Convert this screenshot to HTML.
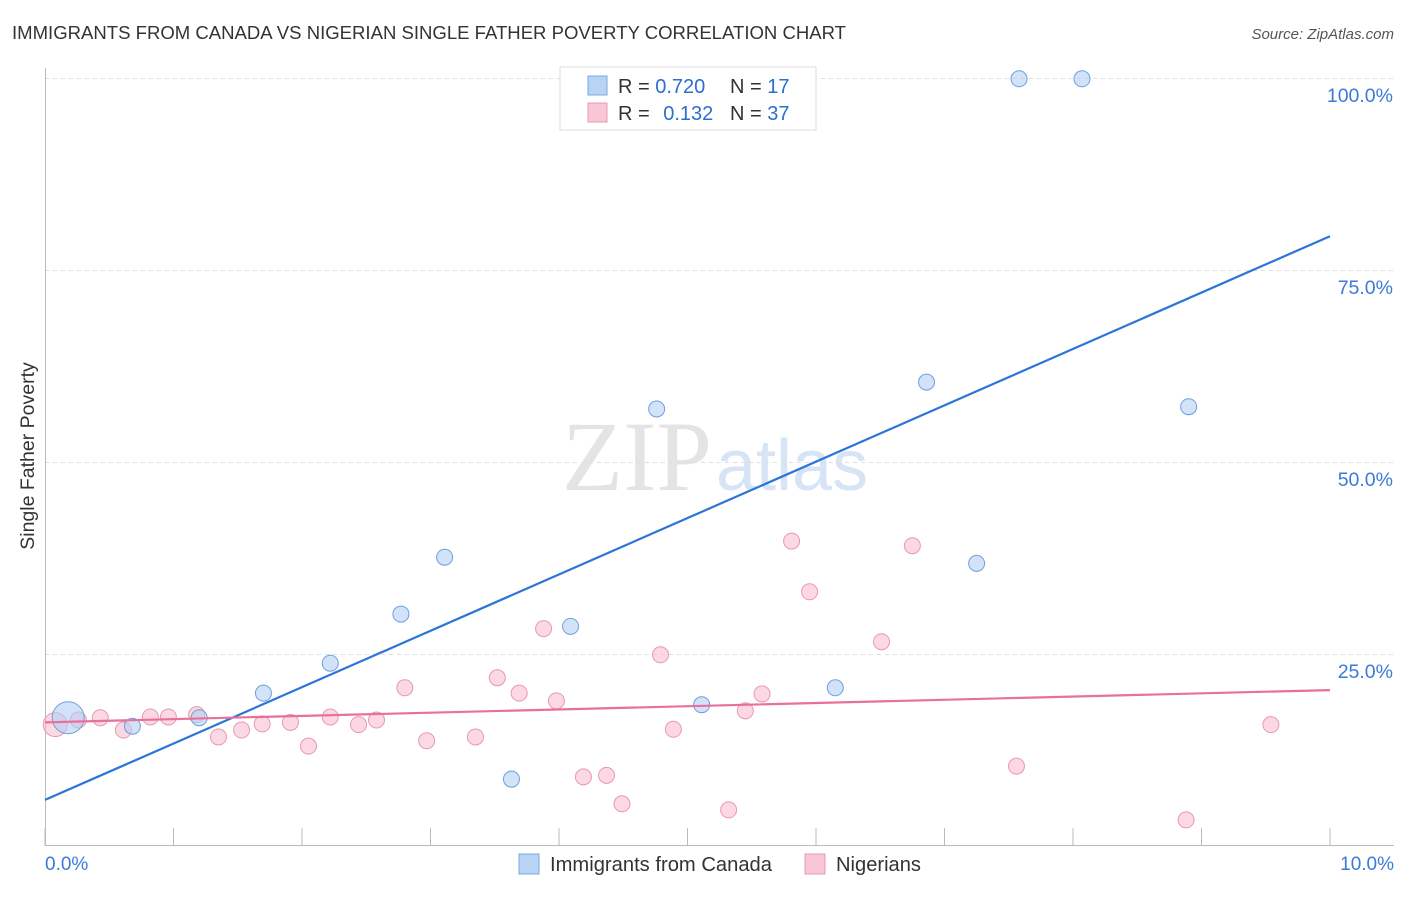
<!DOCTYPE html>
<html><head><meta charset="utf-8"><style>
body{margin:0;background:#fff;font-family:"Liberation Sans",sans-serif;}
svg text{font-family:"Liberation Sans",sans-serif;}
</style></head><body>
<svg id="c" width="1406" height="892">
<text x="12" y="39" font-size="18" fill="#333" textLength="834" lengthAdjust="spacingAndGlyphs">IMMIGRANTS FROM CANADA VS NIGERIAN SINGLE FATHER POVERTY CORRELATION CHART</text>
<text x="1394" y="39" font-size="15" fill="#555" font-style="italic" text-anchor="end">Source: ZipAtlas.com</text>
<text x="712" y="490" font-size="100" fill="#e4e4e4" text-anchor="end" style="font-family:'Liberation Serif',serif">ZIP</text>
<text x="716" y="490" font-size="72" fill="#d6e4f5">atlas</text>
<text x="34" y="456" font-size="19.5" fill="#333" transform="rotate(-90 34 456)" text-anchor="middle">Single Father Poverty</text>
<g id="grid"></g><g id="marks"></g>
<g>
<rect x="560" y="67" width="256" height="63" fill="#fff" stroke="#ddd"/>
<rect x="588" y="76" width="19" height="19" fill="#b8d4f5" stroke="#7aa8e0"/>
<rect x="588" y="103" width="19" height="19" fill="#f8c6d5" stroke="#e899b0"/>
<text x="618" y="93" font-size="20" fill="#333">R = <tspan fill="#2b6fd0">0.720</tspan></text>
<text x="730" y="93" font-size="20" fill="#333">N = <tspan fill="#2b6fd0">17</tspan></text>
<text x="618" y="120" font-size="20" fill="#333">R = <tspan fill="#2b6fd0" dx="8">0.132</tspan></text>
<text x="730" y="120" font-size="20" fill="#333">N = <tspan fill="#2b6fd0">37</tspan></text>
</g>
<g>
<rect x="519" y="854" width="20" height="20" fill="#b8d4f5" stroke="#7aa8e0"/>
<text x="550" y="871" font-size="20" fill="#333" textLength="222" lengthAdjust="spacingAndGlyphs">Immigrants from Canada</text>
<rect x="805" y="854" width="20" height="20" fill="#f8c6d5" stroke="#e899b0"/>
<text x="836" y="871" font-size="20" fill="#333" textLength="85" lengthAdjust="spacingAndGlyphs">Nigerians</text>
</g>
</svg>
<script>
const yTicks=[25,50,75,100];
const yTickLabels=["25.0%","50.0%","75.0%","100.0%"];
const xTickLabels=["0.0%","10.0%"];
const canadaX=[0.18,0.68,1.20,1.70,2.22,2.77,3.11,3.63,4.09,4.76,5.11,6.15,6.86,7.25,7.58,8.07,8.90];
const canadaY=[16.7,15.6,16.7,19.9,23.8,30.2,37.6,8.7,28.6,56.9,18.4,20.6,60.4,36.8,99.9,99.9,57.2];
const nigX=[0.08,0.26,0.43,0.61,0.82,0.96,1.18,1.35,1.53,1.69,1.91,2.05,2.22,2.44,2.58,2.80,2.97,3.35,3.52,3.69,3.88,3.98,4.19,4.37,4.49,4.79,4.89,5.32,5.45,5.58,5.81,5.95,6.51,6.75,7.56,8.88,9.54];
const nigY=[15.8,16.4,16.7,15.1,16.8,16.8,17.1,14.2,15.1,15.9,16.1,13.0,16.8,15.8,16.4,20.6,13.7,14.2,21.9,19.9,28.3,18.9,9.0,9.2,5.5,24.9,15.2,4.7,17.6,19.8,39.7,33.1,26.6,39.1,10.4,3.4,15.8];
const canadaTrend=[6.0,79.4];
const nigTrend=[16.1,20.3];
const X=v=>45+v*128.5, Y=v=>846-v*7.68;
const NS="http://www.w3.org/2000/svg";
function mk(t,a,p){const e=document.createElementNS(NS,t);for(const k in a)e.setAttribute(k,a[k]);p.appendChild(e);return e;}
const g=document.getElementById('grid'), m=document.getElementById('marks');
yTicks.forEach((t,i)=>{
 const l=mk('line',{x1:45,x2:1394,y1:Y(t)+0.5,y2:Y(t)+0.5,stroke:'#e0e0e0','stroke-dasharray':'4,4'},g);
 
 
 const tx=mk('text',{x:1393,y:Y(t)+24,'font-size':19.5,fill:'#3b7ad8','text-anchor':'end'},g);
 tx.textContent=yTickLabels[i];
 
 
});
const ax=mk('line',{x1:45,x2:1394,y1:845.5,y2:845.5,stroke:'#bbb'},g);


const ay=mk('line',{x1:45.5,x2:45.5,y1:68,y2:846,stroke:'#bbb'},g);


for(let i=0;i<=10;i++){const t=mk('line',{x1:X(i),x2:X(i),y1:828,y2:846,stroke:'#bbb'},g);
 
 }
[[0,'start',45],[10,'end',1394]].forEach((d,i)=>{const t=mk('text',{x:d[2],y:870,'font-size':19,fill:'#3b7ad8','text-anchor':d[1]},g);t.textContent=xTickLabels[i];
 
 });
nigX.forEach((x,i)=>{const c=mk('circle',{cx:X(x),cy:Y(nigY[i]),r:i==0?12:8,fill:'rgba(247,184,204,0.55)',stroke:'#e899b0','stroke-width':1},m);
 
 });
canadaX.forEach((x,i)=>{const c=mk('circle',{cx:X(x),cy:Y(canadaY[i]),r:i==0?16:8,fill:'rgba(180,208,245,0.6)',stroke:'#6f9fdc','stroke-width':1},m);
 
 });
const l1=mk('line',{x1:X(0),y1:Y(canadaTrend[0]),x2:X(10),y2:Y(canadaTrend[1]),stroke:'#2b74d8','stroke-width':2.2},m);


const l2=mk('line',{x1:X(0),y1:Y(nigTrend[0]),x2:X(10),y2:Y(nigTrend[1]),stroke:'#e8709a','stroke-width':2.2},m);


</script>
</body></html>
